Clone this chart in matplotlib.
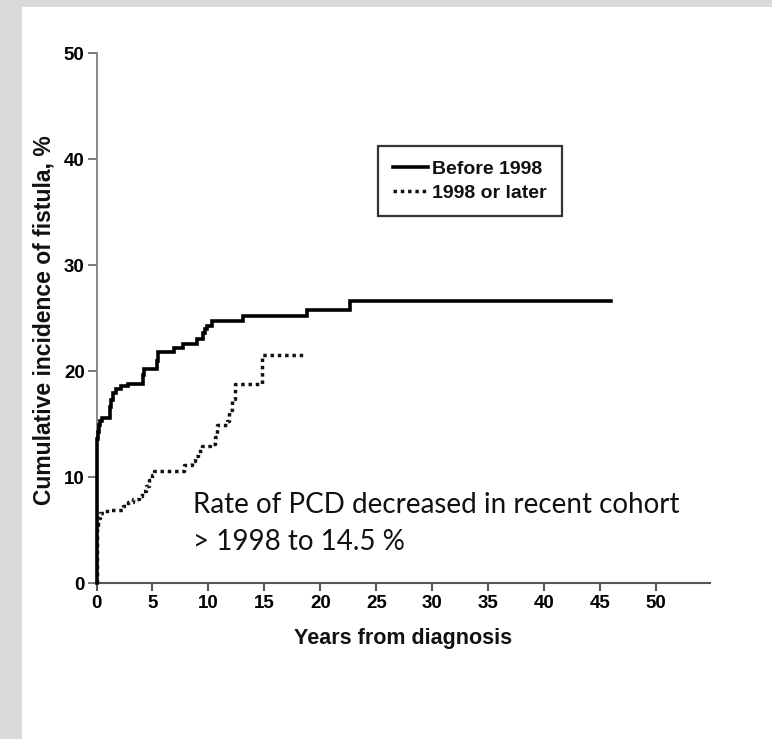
import matplotlib
matplotlib.use("Agg")
import matplotlib.pyplot as plt
from matplotlib.patches import Rectangle
from matplotlib.lines import Line2D

# ---- data ----
before_t = [0, 0, 0.05, 0.12, 0.2, 0.3, 0.45, 1.2, 1.3, 1.45, 1.7, 2.2, 2.8,
            4.15, 4.25, 5.4, 5.5, 6.9, 7.75, 8.95, 9.5, 9.65, 9.85, 10.3,
            13.1, 18.8, 22.6, 46.0]
before_v = [0, 12.9, 13.6, 14.3, 14.9, 15.3, 15.6, 16.6, 17.3, 17.9, 18.3, 18.6, 18.8,
            19.6, 20.2, 21.0, 21.8, 22.2, 22.6, 23.0, 23.6, 24.0, 24.3, 24.7,
            25.2, 25.8, 26.6, 26.6]

later_t = [0, 0, 0.08, 0.16, 0.3, 0.8, 1.3, 2.4, 2.8, 3.3, 3.8, 4.1, 4.4, 4.7,
           4.95, 5.15, 7.8, 8.5, 8.8, 9.1, 9.4, 10.1, 10.6, 10.75, 11.7, 11.85,
           12.1, 12.35, 14.8, 18.5]
later_v = [0, 4.8, 5.5, 6.1, 6.6, 6.8, 6.9, 7.3, 7.6, 7.9, 8.2, 8.7, 9.2, 9.7,
           10.2, 10.6, 11.1, 11.5, 12.0, 12.5, 12.9, 13.1, 13.8, 14.9, 15.3, 16.3,
           17.4, 18.8, 21.5, 21.5]

series_labels = ["Before 1998", "1998 or later"]
x_ticks = [0, 5, 10, 15, 20, 25, 30, 35, 40, 45, 50]
y_ticks = [0, 10, 20, 30, 40, 50]
x_label = "Years from diagnosis"
y_label = "Cumulative incidence of fistula, %"
note_lines = ["Rate of PCD decreased in recent cohort", "> 1998 to 14.5 %"]

plt.rcParams["font.family"] = ["Liberation Sans", "DejaVu Sans"]
plt.rcParams["font.weight"] = "bold"
plt.rcParams["axes.labelweight"] = "bold"

W, H = 772, 739
fig = plt.figure(figsize=(W / 100, H / 100), dpi=100)
fig.patch.set_facecolor("#d9d9d9")
fig.add_artist(Rectangle((22 / W, 0), 1 - 22 / W, (H - 7) / H,
                         transform=fig.transFigure, facecolor="white",
                         edgecolor="none", zorder=0))

ax = fig.add_axes([96.5 / W, (H - 583) / H, (710 - 96.5) / W, (583 - 53.3) / H])
ax.set_facecolor("none")
ax.set_xlim(0, 54.8)
ax.set_ylim(0, 50)

for s in ["top", "right"]:
    ax.spines[s].set_visible(False)
ax.spines["left"].set_color("#808080")
ax.spines["left"].set_linewidth(1.3)
ax.spines["bottom"].set_color("#555555")
ax.spines["bottom"].set_linewidth(1.5)

ax.set_xticks(x_ticks)
ax.set_yticks(y_ticks)
ax.tick_params(axis="y", length=6.5, width=1.3, color="#707070", pad=2,
               labelsize=13.5, labelcolor="#000000")
ax.tick_params(axis="x", length=6, width=1.5, color="#555555", pad=3,
               labelsize=13.5, labelcolor="#000000")

ax.step(before_t, before_v, where="post", color="black", lw=2.6,
        solid_joinstyle="miter", zorder=4, clip_on=False)
ax.step(later_t, later_v, where="post", color="#111111", lw=2.5,
        linestyle=(0, (1.0, 1.1)), zorder=3, clip_on=False)

ax.set_xlabel(x_label, fontsize=15.5, color="#111111", labelpad=11)
fig.text(44 / W, 1 - 320 / H, y_label, rotation=90, ha="center", va="center",
         fontsize=16.5, color="#111111", fontweight="bold")

handles = [Line2D([], [], color="black", lw=2.6),
           Line2D([], [], color="#111111", lw=2.5, linestyle=(0, (1.0, 1.1)))]
leg = ax.legend(handles, series_labels, loc="upper left",
                bbox_to_anchor=(378 / W, 1 - 146 / H), bbox_transform=fig.transFigure,
                prop={"weight": "bold", "size": 14},
                frameon=True, fancybox=False, framealpha=1, edgecolor="#333333",
                handlelength=1.8, handletextpad=0.25, borderpad=0.75,
                labelspacing=0.3, borderaxespad=0)
leg.get_frame().set_linewidth(1.6)
for t in leg.get_texts():
    t.set_color("#111111")

note_font = {"family": ["Lato", "DejaVu Sans"], "size": 20, "color": "#111111",
             "weight": "normal"}
ax.text((193 - 96.5) / 11.22, (583 - 513) / 10.6, note_lines[0], va="baseline",
        ha="left", **note_font)
ax.text((193 - 96.5) / 11.22, (583 - 550) / 10.6, note_lines[1], va="baseline",
        ha="left", **note_font)

fig.savefig("out.png", dpi=100, facecolor=fig.get_facecolor())
